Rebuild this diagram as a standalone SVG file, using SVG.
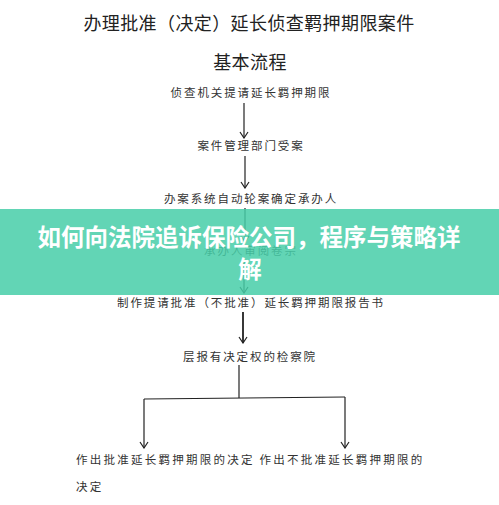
<svg xmlns="http://www.w3.org/2000/svg" width="499" height="505" viewBox="0 0 499 505">
<defs>
<style>
.t{font-family:"Noto Sans CJK SC","Noto Sans CJK TC",sans-serif;fill:#222;}
.h{font-size:18px;text-anchor:middle;letter-spacing:0.4px;}
.s{font-size:11.5px;text-anchor:middle;letter-spacing:1.9px;fill:#333;}
.b{font-size:11.5px;letter-spacing:2.25px;fill:#333;}
.ln{stroke:#222;stroke-width:1.2;fill:none;}
.ar{marker-end:url(#ah);}
.bt{font-family:"Noto Sans CJK SC",sans-serif;font-weight:bold;font-size:23.5px;fill:#fff;text-anchor:middle;}
</style>
<marker id="ah" markerWidth="10" markerHeight="10" refX="9" refY="5" orient="auto" markerUnits="userSpaceOnUse" viewBox="0 0 10 10">
<path d="M3,1 L9,5 L3,9" fill="none" stroke="#222" stroke-width="1.2"/>
</marker>
</defs>
<rect width="499" height="505" fill="#fff"/>
<text class="t h" x="249" y="29.5">办理批准（决定）延长侦查羁押期限案件</text>
<text class="t h" x="250" y="68.5">基本流程</text>
<g id="connectors">
<path class="ln ar" d="M244,103 V138"/>
<path class="ln ar" d="M245,156 V188"/>
<path class="ln ar" d="M245,208 V242"/>
<path class="ln ar" d="M244,260 V293"/>
<path class="ln ar" d="M243,312 V343" style="stroke-width:1.8"/>
<path class="ln" d="M239,365 V398"/>
<path class="ln" d="M144,399 L345,397"/>
<path class="ln ar" d="M144,399 V448"/>
<path class="ln ar" d="M345,397 V448"/>
</g>
<g id="n1"><text class="t s" x="251" y="97">侦查机关提请延长羁押期限</text></g>
<g id="n2"><text class="t s" x="251" y="150">案件管理部门受案</text></g>
<g id="n3"><text class="t s" x="251" y="203">办案系统自动轮案确定承办人</text></g>
<g id="n4"><text class="t s" x="251" y="255">承办人审阅卷宗</text></g>
<g id="n5"><text class="t s" x="251" y="307">制作提请批准（不批准）延长羁押期限报告书</text></g>
<g id="n6"><text class="t s" x="250" y="361">层报有决定权的检察院</text></g>
<g id="n7"><text class="t b" x="76" y="464">作出批准延长羁押期限的决定 作出不批准延长羁押期限的</text>
<text class="t b" x="76" y="491">决定</text></g>
<g id="banner">
<rect x="0" y="209" width="499" height="86" fill="#47CEA8" fill-opacity="0.85"/>
<text class="bt" x="249" y="246">如何向法院追诉保险公司，程序与策略详</text>
<text class="bt" x="250" y="278">解</text>
</g>
</svg>
